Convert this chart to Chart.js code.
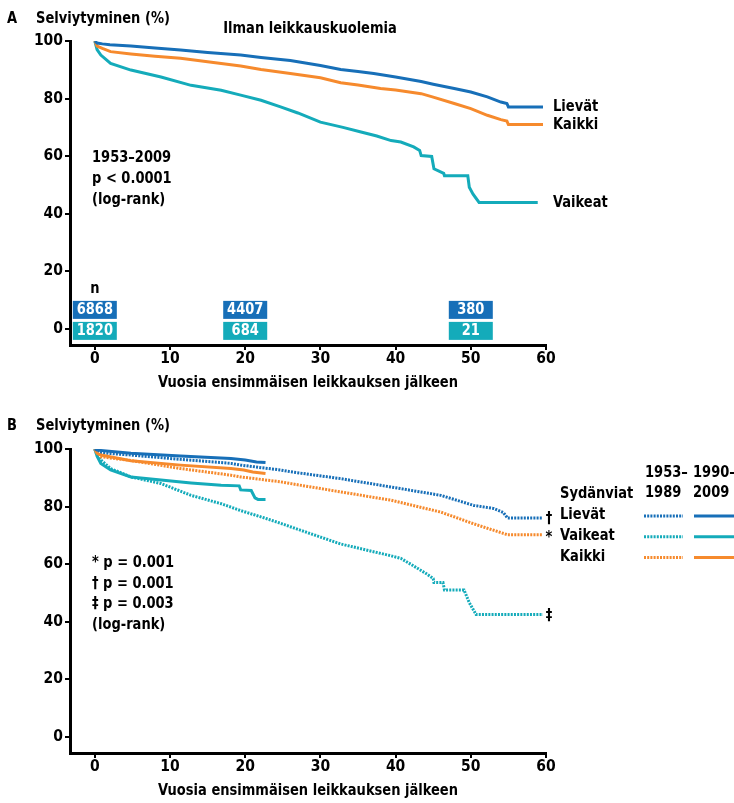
<!DOCTYPE html>
<html><head><meta charset="utf-8">
<script src="https://cdn.jsdelivr.net/npm/chart.js@4"></script>
<style>
html,body{margin:0;padding:0;background:#fff;width:734px;height:803px;overflow:hidden;position:relative;}
#wa{position:absolute;left:0;top:0;width:734px;height:408px;}
#wb{position:absolute;left:0;top:408px;width:734px;height:408px;}
</style></head><body>
<div id="wa"><canvas id="ca" width="734" height="408"></canvas></div>
<div id="wb"><canvas id="cb" width="734" height="408"></canvas></div>
<script>
// ---------- data ----------
const xTickValues = [0, 10, 20, 30, 40, 50, 60];
const yTickValues = [0, 20, 40, 60, 80, 100];

// Panel A (1953–2009)
const yearsLievatA = [0, 0.3, 1, 2, 4.8, 8, 11.4, 15, 19.4, 22.1, 26, 30, 32.7, 35, 37.1, 40, 43.4, 45, 47.8, 50, 52.2, 54, 54.8, 55, 59.6];
const lievatA      = [100, 99.3, 99, 98.7, 98.3, 97.6, 96.9, 96, 95.1, 94.3, 93.2, 91.5, 90.1, 89.4, 88.7, 87.5, 85.9, 85, 83.5, 82.3, 80.6, 78.8, 78.3, 77.1, 77.1];
const yearsKaikkiA = [0, 0.3, 1, 2.1, 4.8, 8, 11.4, 15, 19.4, 22.1, 26, 30, 32.7, 35, 38, 40, 43.4, 45, 47.8, 50, 52.2, 54, 54.8, 55, 59.6];
const kaikkiA      = [100, 98.2, 97.4, 96.3, 95.5, 94.7, 94, 92.8, 91.3, 90.1, 88.7, 87.2, 85.5, 84.7, 83.5, 83, 81.7, 80.5, 78.3, 76.5, 74.2, 72.7, 72.2, 71, 71];
const yearsVaikeatA = [0, 0.3, 0.8, 2.1, 4.8, 8.8, 12.8, 16.8, 19.4, 22.1, 24.7, 27, 30, 33, 35.4, 37.5, 39.4, 40.7, 42.4, 43.2, 43.4, 44.8, 45.1, 46.4, 46.5, 49.6, 49.8, 50.3, 51.1, 58.9];
const vaikeatA      = [100, 97, 95.1, 92.2, 89.9, 87.5, 84.6, 82.9, 81.2, 79.4, 77.1, 75, 71.8, 70, 68.4, 67, 65.4, 64.9, 63.2, 62, 60.2, 59.9, 55.6, 54, 53.2, 53.2, 49.2, 46.8, 43.9, 43.9];

// Numbers at risk (panel A)
const nYears    = [0, 20, 50];
const nLievat   = [6868, 4407, 380];
const nVaikeat  = [1820, 684, 21];

// Panel B: 1953–1989 (dotted) and 1990–2009 (solid)
const yearsLievat1 = [0, 0.3, 0.8, 4.8, 11.4, 18.1, 19.4, 24.7, 26, 32.7, 39.4, 46, 50.4, 53.1, 54.3, 54.9, 59.6];
const lievat1      = [100, 99.2, 98.7, 97.9, 96.4, 95, 94.4, 92.7, 92.1, 89.7, 86.8, 83.9, 80.4, 79.3, 78, 76, 76];
const yearsLievat2 = [0, 0.3, 4.8, 11.4, 18.1, 20, 21.5, 22.7];
const lievat2      = [100, 99.6, 98.5, 97.6, 96.7, 96.2, 95.5, 95.3];
const yearsVaikeat1 = [0, 0.3, 0.8, 2.1, 4.8, 8.8, 12.8, 16.8, 19.4, 22, 24.7, 26, 32.7, 39.4, 40.7, 42, 44.2, 45, 45.1, 46.3, 46.5, 49.1, 49.8, 50.7, 59.6];
const vaikeat1      = [100, 98, 96.2, 93.2, 90.3, 88, 83.9, 81, 78.6, 76.5, 74.2, 73, 67, 62.9, 62, 60, 56.5, 55, 53.6, 53.6, 51, 51, 46.6, 42.5, 42.5];
const yearsVaikeat2 = [0, 0.3, 0.8, 2.1, 4.8, 8.8, 12.8, 16.8, 19.2, 19.4, 20.8, 21.3, 21.7, 22.7];
const vaikeat2      = [100, 97.5, 95, 92.7, 90.3, 89.2, 88.2, 87.4, 87.2, 85.8, 85.6, 83, 82.5, 82.5];
const yearsKaikki1 = [0, 0.3, 0.8, 4.8, 11.4, 18.1, 19.4, 24.7, 26, 32.7, 39.4, 46, 50.4, 54.9, 59.6];
const kaikki1      = [100, 98.3, 97.3, 96, 93.2, 90.9, 90.3, 88.6, 88, 85.1, 82.2, 78.1, 74, 70.2, 70.2];
const yearsKaikki2 = [0, 0.3, 0.8, 4.8, 11.4, 18.1, 19.8, 21, 22.7];
const kaikki2      = [100, 98.5, 97.9, 95.9, 94.4, 93.2, 92.7, 92, 91.5];

const pValues = ['* p = 0.001', '† p = 0.001', '‡ p = 0.003'];
const xTitle = 'Vuosia ensimmäisen leikkauksen jälkeen';

// ---------- styling ----------
const BLUE = '#176fb8', CYAN = '#14abba', ORANGE = '#f68a2d';
const X_MIN = -3.3, Y_MIN = -5.6;

function pickFont(cands){
  const c = document.createElement('canvas').getContext('2d');
  const t = 'Vuosia ensimmäisen 0123456789';
  for (const f of cands){
    c.font = 'bold 20px monospace'; const a = c.measureText(t).width;
    c.font = `bold 20px "${f}", monospace`; const b = c.measureText(t).width;
    c.font = 'bold 20px serif'; const d = c.measureText(t).width;
    c.font = `bold 20px "${f}", serif`; const e = c.measureText(t).width;
    if (a !== b || d !== e) return `"${f}"`;
  }
  return 'sans-serif';
}
const FAM = pickFont(['Liberation Sans Narrow', 'DejaVu Sans Condensed', 'Roboto Condensed', 'Roboto']);
const FS = 16.5;          // text size for annotations
const TICK_FS = 15.5;     // tick label size
const fnt = (s) => `bold ${s}px ${FAM}`;
const mc = document.createElement('canvas').getContext('2d');
mc.font = fnt(FS);
const SX = Math.min(1, 300 / mc.measureText(xTitle).width);   // horizontal condensing

Chart.defaults.font.family = FAM;
Chart.defaults.font.weight = 'bold';
Chart.defaults.font.size = TICK_FS;
Chart.defaults.color = '#000';

const pts = (xs, ys) => xs.map((x, i) => ({x, y: ys[i]}));

function txt(ctx, t, x, y, align){
  ctx.save();
  ctx.translate(x, y); ctx.scale(SX, 1);
  ctx.textAlign = align || 'left'; ctx.textBaseline = 'middle';
  ctx.font = fnt(FS);
  ctx.fillText(t, 0, 0);
  ctx.restore();
}

function scalesCfg(){
  const grid = {display: true, drawOnChartArea: false, drawTicks: true, tickLength: 5, color: '#000', lineWidth: 2};
  const border = {display: true, color: '#000', width: 3};
  return {
    x: {type: 'linear', min: X_MIN, max: 60,
      afterBuildTicks: s => { s.ticks = xTickValues.map(v => ({value: v})); },
      grid, border,
      ticks: {color: '#000', padding: 0, maxRotation: 0, autoSkip: false, font: {size: TICK_FS, weight: 'bold'}},
      title: {display: false},
      afterFit: s => { s.height = 63; }
    },
    y: {type: 'linear', min: Y_MIN, max: 100,
      afterBuildTicks: s => { s.ticks = yTickValues.map(v => ({value: v})); },
      grid, border,
      ticks: {color: '#000', padding: 2, font: {size: TICK_FS, weight: 'bold'}},
      afterFit: s => { s.width = 70; }
    }
  };
}

function ds(label, xs, ys, color, dotted){
  return {label, data: pts(xs, ys), borderColor: color, backgroundColor: color,
    borderWidth: 3, borderDash: dotted ? [2, 1.2] : [], pointRadius: 0, tension: 0, fill: false};
}

function drawXTitle(chart){
  const a = chart.chartArea;
  chart.ctx.fillStyle = '#000';
  txt(chart.ctx, xTitle, (a.left + a.right) / 2, 383, 'center');
}

const annotA = {
  id: 'annotA',
  afterDraw(chart){
    const {ctx} = chart; const x = chart.scales.x, y = chart.scales.y;
    ctx.save();
    ctx.fillStyle = '#000';
    drawXTitle(chart);
    txt(ctx, 'A', 7, 19);
    txt(ctx, 'Selviytyminen (%)', 36, 19);
    txt(ctx, 'Ilman leikkauskuolemia', 310, 29, 'center');
    ['1953–2009', 'p < 0.0001', '(log-rank)'].forEach((t, i) => txt(ctx, t, 92, 158 + i * 21));
    const ends = [['Lievät', lievatA], ['Kaikki', kaikkiA], ['Vaikeat', vaikeatA]];
    const lx = x.getPixelForValue(60) + 7;
    ends.forEach(([t, arr]) => txt(ctx, t, lx, y.getPixelForValue(arr[arr.length - 1])));
    // numbers at risk
    const y0 = y.getPixelForValue(0);
    txt(ctx, 'n', x.getPixelForValue(nYears[0]), y0 - 40, 'center');
    nYears.forEach((yr, i) => {
      const cx = x.getPixelForValue(yr);
      ctx.fillStyle = BLUE; ctx.fillRect(cx - 22, y0 - 28, 44, 18);
      ctx.fillStyle = CYAN; ctx.fillRect(cx - 22, y0 - 7, 44, 18);
      ctx.fillStyle = '#fff';
      txt(ctx, String(nLievat[i]), cx, y0 - 19, 'center');
      txt(ctx, String(nVaikeat[i]), cx, y0 + 2, 'center');
    });
    ctx.restore();
  }
};

const annotB = {
  id: 'annotB',
  afterDraw(chart){
    const {ctx} = chart; const x = chart.scales.x, y = chart.scales.y;
    ctx.save();
    ctx.fillStyle = '#000';
    drawXTitle(chart);
    txt(ctx, 'B', 7, 18);
    txt(ctx, 'Selviytyminen (%)', 36, 18);
    pValues.concat(['(log-rank)']).forEach((t, i) => txt(ctx, t, 92, 155 + i * 20.5));
    // markers at curve ends
    const mx = x.getPixelForValue(60) + 3;
    txt(ctx, '†', mx, y.getPixelForValue(lievat1[lievat1.length - 1]) + 1, 'center');
    txt(ctx, '*', mx, y.getPixelForValue(kaikki1[kaikki1.length - 1]) + 3, 'center');
    txt(ctx, '‡', mx, y.getPixelForValue(vaikeat1[vaikeat1.length - 1]) + 1, 'center');
    // legend
    txt(ctx, '1953–', 645, 65);
    txt(ctx, '1989', 645, 85);
    txt(ctx, '1990–', 693, 65);
    txt(ctx, '2009', 693, 85);
    txt(ctx, 'Sydänviat', 560, 86);
    const rows = [['Lievät', BLUE], ['Vaikeat', CYAN], ['Kaikki', ORANGE]];
    rows.forEach(([t, c], i) => {
      const ry = 107 + i * 20.8;
      ctx.fillStyle = '#000'; txt(ctx, t, 560, ry);
      ctx.strokeStyle = c; ctx.lineWidth = 3;
      ctx.setLineDash([2, 1.2]);
      ctx.beginPath(); ctx.moveTo(644, ry + 1); ctx.lineTo(683, ry + 1); ctx.stroke();
      ctx.setLineDash([]);
      ctx.beginPath(); ctx.moveTo(694, ry + 1); ctx.lineTo(734, ry + 1); ctx.stroke();
    });
    ctx.restore();
  }
};

const common = {
  responsive: false, animation: false, devicePixelRatio: 1,
  layout: {padding: {left: 0, top: 41, right: 188, bottom: 0}},
  plugins: {legend: {display: false}, tooltip: {enabled: false}}
};

new Chart(document.getElementById('ca'), {
  type: 'line',
  data: {datasets: [
    ds('Lievät', yearsLievatA, lievatA, BLUE, false),
    ds('Kaikki', yearsKaikkiA, kaikkiA, ORANGE, false),
    ds('Vaikeat', yearsVaikeatA, vaikeatA, CYAN, false)
  ]},
  options: Object.assign({}, common, {scales: scalesCfg()}),
  plugins: [annotA]
});

new Chart(document.getElementById('cb'), {
  type: 'line',
  data: {datasets: [
    ds('Lievät 1990–2009', yearsLievat2, lievat2, BLUE, false),
    ds('Kaikki 1990–2009', yearsKaikki2, kaikki2, ORANGE, false),
    ds('Vaikeat 1990–2009', yearsVaikeat2, vaikeat2, CYAN, false),
    ds('Lievät 1953–1989', yearsLievat1, lievat1, BLUE, true),
    ds('Kaikki 1953–1989', yearsKaikki1, kaikki1, ORANGE, true),
    ds('Vaikeat 1953–1989', yearsVaikeat1, vaikeat1, CYAN, true)
  ]},
  options: Object.assign({}, common, {scales: scalesCfg()}),
  plugins: [annotB]
});
</script>
</body></html>
